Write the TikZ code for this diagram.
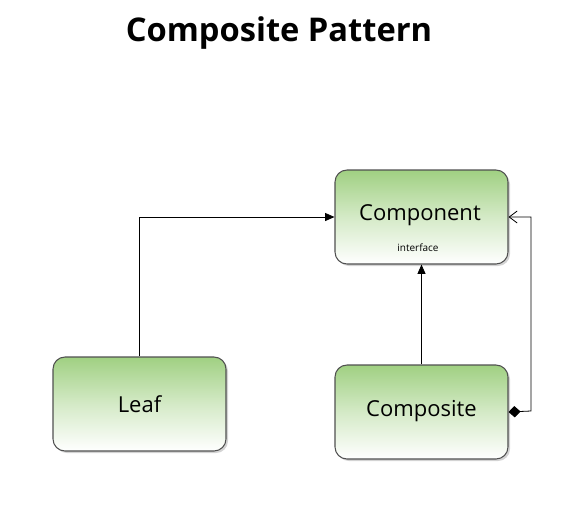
\documentclass[tikz,border=0pt]{standalone}
\usepackage{fontspec}
\setmainfont{Open Sans}
\usetikzlibrary{shadows,arrows.meta}

\definecolor{boxgreen}{RGB}{160,208,130}
\definecolor{boxline}{RGB}{80,80,80}

\tikzset{
  classbox/.style={draw=boxline, line width=0.8pt, rounded corners=9pt,
    minimum width=129.75pt, minimum height=70.5pt,
    top color=boxgreen, bottom color=white, middle color=boxgreen!45,
    drop shadow={shadow xshift=1.5pt, shadow yshift=-1.5pt, opacity=0.35}},
  classname/.style={font=\fontsize{16.5}{19}\selectfont},
  link/.style={draw=black, line width=0.6pt}
}

\begin{document}
\begin{tikzpicture}[x=0.75pt, y=-0.75pt]
				\useasboundingbox (0,0) rectangle (579,515);
				
				% Title
				\node (title) at (279, 33) {\fontsize{24.5}{28}\selectfont\bfseries Composite Pattern};
				
				% Classes
				\node[classbox] (component) at (421.5, 217) {};
				\node[classname] (componentname) at (420, 215) {Component};
				\node (iface) at (418, 248) {\fontsize{7.5}{9}\selectfont interface};
				
				\node[classbox] (leaf) at (139.5, 404) {};
				\node[classname] (leafname) at (139.5, 404) {Leaf};
				
				\node[classbox] (composite) at (421.5, 412) {};
				\node[classname] (compositename) at (421.5, 411) {Composite};
				
				% Links
				\draw[link, -{Triangle[length=7pt, width=6pt]}] (leaf.north) |- (component.west); % leaf to component
				\draw[link, -{Triangle[length=7pt, width=6pt]}] (composite.north) -- (component.south); % composite to component
				\coordinate (turn) at (531, 411);
				\draw[link, {Diamond[length=9pt, width=8.5pt]}-{Straight Barb[length=6pt, width=9pt]}]
					(composite.east) -- (turn) |- (component.east); % aggregation
			\end{tikzpicture}
\end{document}
